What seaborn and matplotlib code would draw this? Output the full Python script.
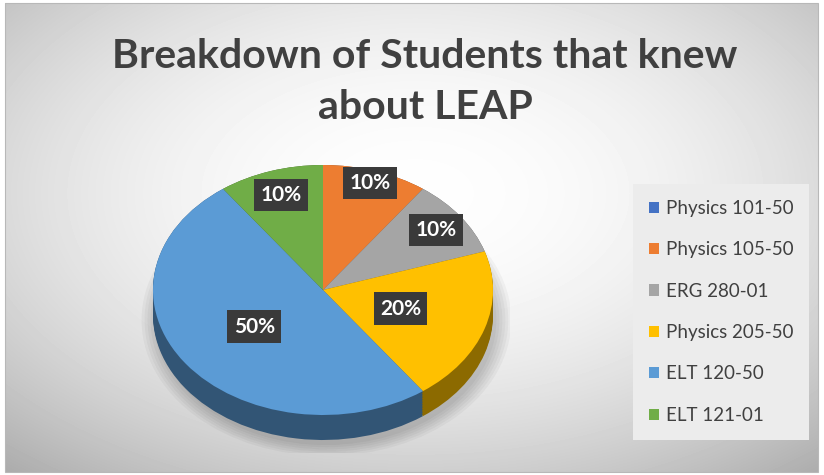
import numpy as np
import matplotlib
matplotlib.use('Agg')
import matplotlib.pyplot as plt
import matplotlib.colors as mcolors
from matplotlib.patches import Patch, Rectangle, Ellipse
import seaborn as sns

# data
courses = ['Physics 101-50', 'Physics 105-50', 'ERG 280-01',
           'Physics 205-50', 'ELT 120-50', 'ELT 121-01']
shares = [0, 10, 10, 20, 50, 10]
colors = ['#4472C4', '#ED7D31', '#A5A5A5', '#FFC000', '#5B9BD5', '#70AD47']
label_radius = [0.9, 0.9, 0.82, 0.48, 0.5, 0.8]
title = 'Breakdown of Students that knew\nabout LEAP'

sns.set_theme(style='white')
plt.rcParams['font.family'] = ['Lato', 'DejaVu Sans']

W, H = 824, 475
fig = plt.figure(figsize=(W / 100, H / 100), dpi=100)
fig.patch.set_facecolor('white')

# chart area with a soft radial gradient
bx0, by0, bw, bh = 5, 3, 813, 469
bg = fig.add_axes([bx0 / W, 1 - (by0 + bh) / H, bw / W, bh / H])
yy, xx = np.mgrid[0:bh, 0:bw]
d2 = ((xx - 410) / 560) ** 2 + ((yy - 190) / 330) ** 2
shade = np.clip(0.995 - 0.26 * d2, 0, 1)
bg.imshow(shade, cmap='gray', vmin=0, vmax=1, aspect='auto', interpolation='bilinear')
bg.set_axis_off()
fig.add_artist(Rectangle((bx0 / W, 1 - (by0 + bh) / H), bw / W, bh / H,
                         transform=fig.transFigure, fill=False, ec='#B8B8B8', lw=0.8))

# pie axes: unit circle -> ellipse rx x ry pixels
cx, cy, rx, ry = 323, 290, 170, 125
depth = 0.2
ax = fig.add_axes([(cx - 1.1 * rx) / W, 1 - (cy + (1.1 + depth) * ry) / H,
                   2.2 * rx / W, (2.2 + depth) * ry / H])

# soft shadow below the pie
for k in range(6):
    ax.add_patch(Ellipse((0.02, -depth - 0.04), 2.0 + 0.035 * k, 2.0 + 0.035 * k,
                         fc='black', ec='none', alpha=0.035, zorder=0))

side_colors = [tuple(np.array(mcolors.to_rgb(c)) * 0.55) for c in colors]
for off in np.linspace(depth, 0.0, 16):
    ax.pie(shares, colors=side_colors, startangle=90, counterclock=False,
           center=(0, -off), radius=1, wedgeprops=dict(linewidth=0))

wedges, _, autotexts = ax.pie(
    shares, colors=colors, startangle=90, counterclock=False,
    autopct=lambda p: f'{p:.0f}%' if p > 0 else '', pctdistance=0.6,
    wedgeprops=dict(linewidth=0))

for w, t, r, v in zip(wedges, autotexts, label_radius, shares):
    if v == 0:
        t.set_visible(False)
        continue
    ang = np.deg2rad((w.theta1 + w.theta2) / 2)
    t.set_position((r * np.cos(ang), r * np.sin(ang)))
    t.set(color='white', fontsize=15, fontweight='bold', zorder=10,
          bbox=dict(boxstyle='square,pad=0.3', fc='#3A3A3A', ec='none'))

ax.set_aspect('auto')
ax.set_xlim(-1.1, 1.1)
ax.set_ylim(-1.1 - depth, 1.1)
ax.set_axis_off()

fig.text(425 / W, 1 - 82 / H, title, ha='center', va='center', fontsize=29.5,
         fontweight='bold', color='#404040', linespacing=1.45)

handles = [Patch(fc=c, ec='none') for c in colors]
fig.legend(handles, courses, loc='upper left', bbox_to_anchor=(633 / W, 1 - 184 / H),
           frameon=True, facecolor='#ECECEC', edgecolor='none', fancybox=False,
           framealpha=1, fontsize=13.5, labelcolor='#404040',
           handlelength=0.55, handleheight=0.55, handletextpad=0.35,
           labelspacing=1.3, borderpad=0.85, borderaxespad=0)

fig.savefig('out.png', dpi=100)
